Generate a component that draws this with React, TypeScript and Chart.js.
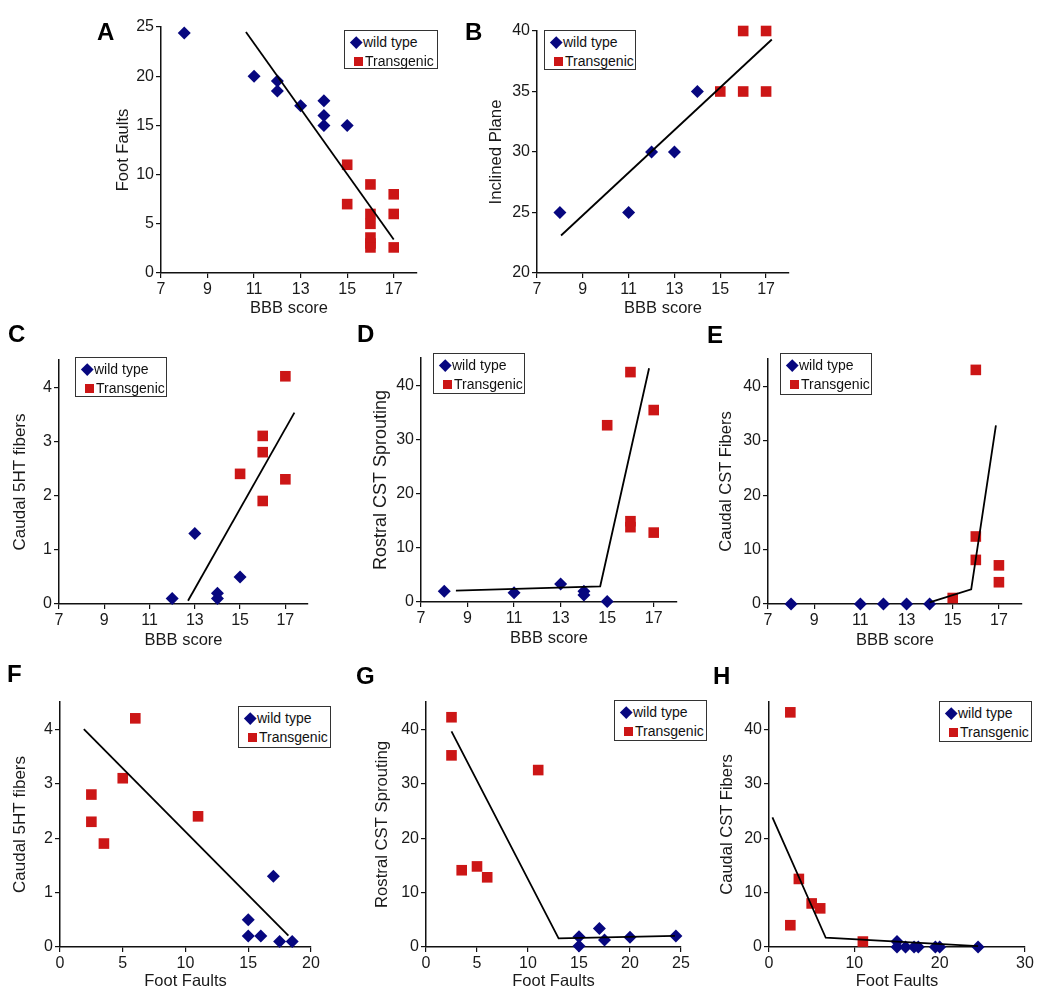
import React, { useEffect, useRef } from 'react';
import { Chart, registerables } from 'chart.js';

Chart.register(...registerables);

const FONT = '"Liberation Sans", Arial, Helvetica, sans-serif';
const NAVY = '#07077f';
const RED = '#cc1616';

// ---------- tick labels ----------
const bbbTicks = [7, 9, 11, 13, 15, 17];
const footFaultYTicks = [0, 5, 10, 15, 20, 25];
const inclinedTicks = [20, 25, 30, 35, 40];
const fiber5htTicks = [0, 1, 2, 3, 4];
const cstTicks = [0, 10, 20, 30, 40];
const footFaultXTicksF = [0, 5, 10, 15, 20];
const footFaultXTicksG = [0, 5, 10, 15, 20, 25];
const footFaultXTicksH = [0, 10, 20, 30];

// ---------- A: BBB score vs Foot Faults ----------
const aWildX = [8, 11, 12, 12, 13, 14, 14, 14, 15];
const aWildY = [24.4, 20, 19.5, 18.5, 17, 17.5, 16, 15, 15];
const aTgX = [15, 15, 16, 16, 16, 16, 16, 16, 17, 17, 17];
const aTgY = [11, 7, 9, 6, 5, 3.6, 3, 2.6, 8, 6, 2.6];
const aFitX = [10.65, 17];
const aFitY = [24.5, 3.4];

// ---------- B: BBB score vs Inclined Plane ----------
const bWildX = [8, 11, 12, 13, 14];
const bWildY = [25, 25, 30, 30, 35];
const bTgX = [15, 16, 17, 16, 17];
const bTgY = [35, 40, 40, 35, 35];
const bFitX = [8.05, 17.25];
const bFitY = [23.1, 39.3];

// ---------- C: BBB score vs Caudal 5HT fibers ----------
const cWildX = [12, 13, 14, 14, 15];
const cWildY = [0.1, 1.3, 0.2, 0.1, 0.5];
const cTgX = [15, 16, 16, 16, 17, 17];
const cTgY = [2.4, 3.1, 2.8, 1.9, 4.2, 2.3];
const cFitX = [12.7, 17.4];
const cFitY = [0.06, 3.53];

// ---------- D: BBB score vs Rostral CST Sprouting ----------
const dWildX = [8, 11, 13, 14, 14, 15];
const dWildY = [2, 1.7, 3.3, 2.0, 1.3, 0.1];
const dTgX = [15, 16, 16, 16, 17, 17];
const dTgY = [32.6, 42.4, 14.9, 13.8, 35.4, 12.8];
const dFitX = [8.5, 14.7, 16.8];
const dFitY = [2.1, 2.9, 43.1];

// ---------- E: BBB score vs Caudal CST Fibers ----------
const eWildX = [8, 11, 12, 13, 14];
const eWildY = [0, 0, 0, 0, 0];
const eTgX = [15, 16, 16, 16, 17, 17];
const eTgY = [1.1, 43, 12.4, 8.1, 7.1, 4.0];
const eFitX = [14, 15.8, 16.87];
const eFitY = [0.3, 2.7, 32.8];

// ---------- F: Foot Faults vs Caudal 5HT fibers ----------
const fWildX = [15, 15, 16, 17, 17.5, 18.5];
const fWildY = [0.5, 0.2, 0.2, 1.3, 0.1, 0.1];
const fTgX = [2.5, 2.5, 3.5, 5, 6, 11];
const fTgY = [2.8, 2.3, 1.9, 3.1, 4.2, 2.4];
const fFitX = [1.9, 18.2];
const fFitY = [4.0, 0.21];

// ---------- G: Foot Faults vs Rostral CST Sprouting ----------
const gWildX = [15, 15, 17, 17.5, 20, 24.5];
const gWildY = [1.9, 0.2, 3.4, 1.3, 1.8, 2.0];
const gTgX = [2.5, 2.5, 3.5, 5, 6, 11];
const gTgY = [42.2, 35.2, 14.1, 14.8, 12.8, 32.5];
const gFitX = [2.5, 13, 24.4];
const gFitY = [39.6, 1.6, 2.06];

// ---------- H: Foot Faults vs Caudal CST Fibers ----------
const hWildX = [15, 15, 16, 17, 17.5, 19.5, 20, 24.5];
const hWildY = [1.0, 0, 0, 0, 0, 0, 0, 0];
const hTgX = [2.5, 2.5, 3.5, 5, 6, 11];
const hTgY = [43.1, 4.0, 12.5, 8.0, 7.1, 1.0];
const hFitX = [0.4, 6.65, 24.5];
const hFitY = [23.8, 1.7, 0.15];

type Spec = {
  letter: string;
  xTitle: string;
  yTitle: string;
  xMin: number; xMax: number; xTicks: number[];
  yMin: number; yMax: number; yTicks: number[];
  wildX: number[]; wildY: number[];
  tgX: number[]; tgY: number[];
  fitX: number[]; fitY: number[];
  // layout (page pixels)
  L: number; R: number; T: number; B: number;
  yTitleX: number; xTitleY: number;
  titleSize: number;
  yTitleSize: number;
  letterX: number; letterY: number;
  legend: [number, number, number, number];
};

const panels: Spec[] = [
  {
    letter: 'A', xTitle: 'BBB score', yTitle: 'Foot Faults',
    xMin: 7, xMax: 18, xTicks: bbbTicks, yMin: 0, yMax: 25, yTicks: footFaultYTicks,
    wildX: aWildX, wildY: aWildY, tgX: aTgX, tgY: aTgY, fitX: aFitX, fitY: aFitY,
    L: 161, R: 417, T: 27, B: 273, yTitleX: 123, xTitleY: 308, titleSize: 16.5, yTitleSize: 16.5,
    letterX: 97, letterY: 23, legend: [344, 30, 94, 39],
  },
  {
    letter: 'B', xTitle: 'BBB score', yTitle: 'Inclined Plane',
    xMin: 7, xMax: 18, xTicks: bbbTicks, yMin: 20, yMax: 40, yTicks: inclinedTicks,
    wildX: bWildX, wildY: bWildY, tgX: bTgX, tgY: bTgY, fitX: bFitX, fitY: bFitY,
    L: 537, R: 789, T: 31, B: 273, yTitleX: 496, xTitleY: 308, titleSize: 16.5, yTitleSize: 16.7,
    letterX: 465, letterY: 23, legend: [544, 30, 92, 40],
  },
  {
    letter: 'C', xTitle: 'BBB score', yTitle: 'Caudal 5HT fibers',
    xMin: 7, xMax: 18, xTicks: bbbTicks, yMin: 0, yMax: 4.5, yTicks: fiber5htTicks,
    wildX: cWildX, wildY: cWildY, tgX: cTgX, tgY: cTgY, fitX: cFitX, fitY: cFitY,
    L: 59, R: 308, T: 360, B: 604, yTitleX: 20, xTitleY: 640, titleSize: 16.5, yTitleSize: 17,
    letterX: 8, letterY: 325, legend: [75, 357, 92, 40],
  },
  {
    letter: 'D', xTitle: 'BBB score', yTitle: 'Rostral CST Sprouting',
    xMin: 7, xMax: 18, xTicks: bbbTicks, yMin: 0, yMax: 45, yTicks: cstTicks,
    wildX: dWildX, wildY: dWildY, tgX: dTgX, tgY: dTgY, fitX: dFitX, fitY: dFitY,
    L: 421, R: 677, T: 358, B: 602, yTitleX: 381, xTitleY: 638, titleSize: 16.5, yTitleSize: 18,
    letterX: 357, letterY: 325, legend: [433, 353, 92, 41],
  },
  {
    letter: 'E', xTitle: 'BBB score', yTitle: 'Caudal CST Fibers',
    xMin: 7, xMax: 18, xTicks: bbbTicks, yMin: 0, yMax: 45, yTicks: cstTicks,
    wildX: eWildX, wildY: eWildY, tgX: eTgX, tgY: eTgY, fitX: eFitX, fitY: eFitY,
    L: 768, R: 1022, T: 359, B: 604, yTitleX: 726, xTitleY: 640, titleSize: 16.5, yTitleSize: 16.5,
    letterX: 707, letterY: 326, legend: [780, 353, 92, 42],
  },
  {
    letter: 'F', xTitle: 'Foot Faults', yTitle: 'Caudal 5HT fibers',
    xMin: 0, xMax: 20, xTicks: footFaultXTicksF, yMin: 0, yMax: 4.5, yTicks: fiber5htTicks,
    wildX: fWildX, wildY: fWildY, tgX: fTgX, tgY: fTgY, fitX: fFitX, fitY: fFitY,
    L: 60, R: 311, T: 702, B: 947, yTitleX: 20, xTitleY: 981, titleSize: 16.5, yTitleSize: 17,
    letterX: 7, letterY: 665, legend: [238, 706, 93, 42],
  },
  {
    letter: 'G', xTitle: 'Foot Faults', yTitle: 'Rostral CST Sprouting',
    xMin: 0, xMax: 25, xTicks: footFaultXTicksG, yMin: 0, yMax: 45, yTicks: cstTicks,
    wildX: gWildX, wildY: gWildY, tgX: gTgX, tgY: gTgY, fitX: gFitX, fitY: gFitY,
    L: 426, R: 681, T: 702, B: 947, yTitleX: 382, xTitleY: 981, titleSize: 16.5, yTitleSize: 16.7,
    letterX: 356, letterY: 667, legend: [614, 700, 93, 41],
  },
  {
    letter: 'H', xTitle: 'Foot Faults', yTitle: 'Caudal CST Fibers',
    xMin: 0, xMax: 30, xTicks: footFaultXTicksH, yMin: 0, yMax: 45, yTicks: cstTicks,
    wildX: hWildX, wildY: hWildY, tgX: hTgX, tgY: hTgY, fitX: hFitX, fitY: hFitY,
    L: 769, R: 1025, T: 702, B: 947, yTitleX: 727, xTitleY: 981, titleSize: 16.5, yTitleSize: 16.5,
    letterX: 713, letterY: 667, legend: [939, 701, 93, 41],
  },
];

const TICK_SIZE = 16;

function zip(xs: number[], ys: number[]) {
  return xs.map((x, i) => ({ x, y: ys[i] }));
}

function ChartPanel({ s }: { s: Spec }) {
  const ref = useRef<HTMLCanvasElement | null>(null);
  const halfX = (s.titleSize * 1.2) / 2;
  const halfY = (s.yTitleSize * 1.2) / 2;
  const yScaleLeft = s.yTitleX - halfY;
  const xScaleBottom = s.xTitleY + halfX;
  const cl = Math.floor(yScaleLeft) - 2;
  const ct = s.T - 24;
  const cr = s.R + 26;
  const cb = Math.ceil(xScaleBottom) + 4;
  const w = cr - cl;
  const h = cb - ct;

  useEffect(() => {
    if (!ref.current) return;
    const axis = (ticksArr: number[], min: number, max: number, extra: any) => ({
      type: 'linear' as const,
      min,
      max,
      afterBuildTicks: (sc: any) => {
        sc.ticks = ticksArr.map((v) => ({ value: v }));
      },
      grid: {
        display: true,
        drawOnChartArea: false,
        drawTicks: true,
        tickLength: 5,
        color: '#111',
        lineWidth: 1.2,
      },
      border: { display: true, color: '#111', width: 1.5 },
      ticks: {
        font: { family: FONT, size: TICK_SIZE },
        color: '#1a1a1a',
        padding: 2,
        autoSkip: false,
        maxRotation: 0,
        minRotation: 0,
      },
      ...extra,
    });

    const chart = new Chart(ref.current, {
      type: 'scatter',
      data: {
        datasets: [
          {
            label: 'fit',
            data: zip(s.fitX, s.fitY),
            showLine: true,
            borderColor: '#000',
            borderWidth: 1.8,
            pointRadius: 0,
            clip: false,
          } as any,
          {
            label: 'wild type',
            data: zip(s.wildX, s.wildY),
            pointStyle: 'rectRot',
            pointRadius: 6.5,
            backgroundColor: NAVY,
            borderColor: NAVY,
            borderWidth: 0,
            clip: false,
          } as any,
          {
            label: 'Transgenic',
            data: zip(s.tgX, s.tgY),
            pointStyle: 'rect',
            pointRadius: 7.5,
            backgroundColor: RED,
            borderColor: RED,
            borderWidth: 0,
            clip: false,
          } as any,
        ],
      },
      options: {
        animation: false,
        responsive: false,
        maintainAspectRatio: false,
        events: [],
        layout: {
          padding: {
            left: yScaleLeft - cl,
            top: s.T - ct,
            right: cr - s.R,
            bottom: cb - xScaleBottom,
          },
        },
        plugins: {
          legend: { display: false },
          tooltip: { enabled: false },
          title: { display: false },
        },
        scales: {
          x: axis(s.xTicks, s.xMin, s.xMax, {
            position: 'bottom',
            afterFit: (sc: any) => {
              sc.height = xScaleBottom - s.B;
            },
            title: {
              display: true,
              text: s.xTitle,
              font: { family: FONT, size: s.titleSize, lineHeight: 1.2 },
              color: '#1a1a1a',
              padding: 0,
            },
          }),
          y: axis(s.yTicks, s.yMin, s.yMax, {
            position: 'left',
            afterFit: (sc: any) => {
              sc.width = s.L - yScaleLeft;
            },
            title: {
              display: true,
              text: s.yTitle,
              font: { family: FONT, size: s.yTitleSize, lineHeight: 1.2 },
              color: '#1a1a1a',
              padding: 0,
            },
          }),
        },
      } as any,
    });
    return () => chart.destroy();
  }, []);

  const [lx, ly, lw, lh] = s.legend;
  return (
    <>
      <canvas
        ref={ref}
        width={w}
        height={h}
        style={{ position: 'absolute', left: cl, top: ct, width: w, height: h }}
      />
      <div
        style={{
          position: 'absolute',
          left: s.letterX,
          top: s.letterY - 3,
          fontFamily: FONT,
          fontWeight: 'bold',
          fontSize: 24,
          lineHeight: '24px',
          color: '#000',
        }}
      >
        {s.letter}
      </div>
      <div
        style={{
          position: 'absolute',
          left: lx,
          top: ly,
          width: lw,
          height: lh,
          boxSizing: 'border-box',
          border: '1px solid #333',
          background: '#fff',
          fontFamily: FONT,
          fontSize: 14,
          color: '#111',
        }}
      >
        <div
          style={{
            position: 'absolute',
            left: 7,
            top: 7,
            width: 8.5,
            height: 8.5,
            background: NAVY,
            transform: 'rotate(45deg)',
          }}
        />
        <span style={{ position: 'absolute', left: 18, top: 2, lineHeight: '18px', whiteSpace: 'nowrap' }}>
          wild type
        </span>
        <div
          style={{
            position: 'absolute',
            left: 9,
            top: 26,
            width: 9,
            height: 9,
            background: RED,
          }}
        />
        <span style={{ position: 'absolute', left: 20, top: 21, lineHeight: '18px', whiteSpace: 'nowrap' }}>
          Transgenic
        </span>
      </div>
    </>
  );
}

export default function App() {
  return (
    <div
      style={{
        position: 'absolute',
        left: 0,
        top: 0,
        width: 1050,
        height: 1001,
        background: '#fff',
        overflow: 'hidden',
      }}
    >
      {panels.map((p) => (
        <ChartPanel key={p.letter} s={p} />
      ))}
    </div>
  );
}
